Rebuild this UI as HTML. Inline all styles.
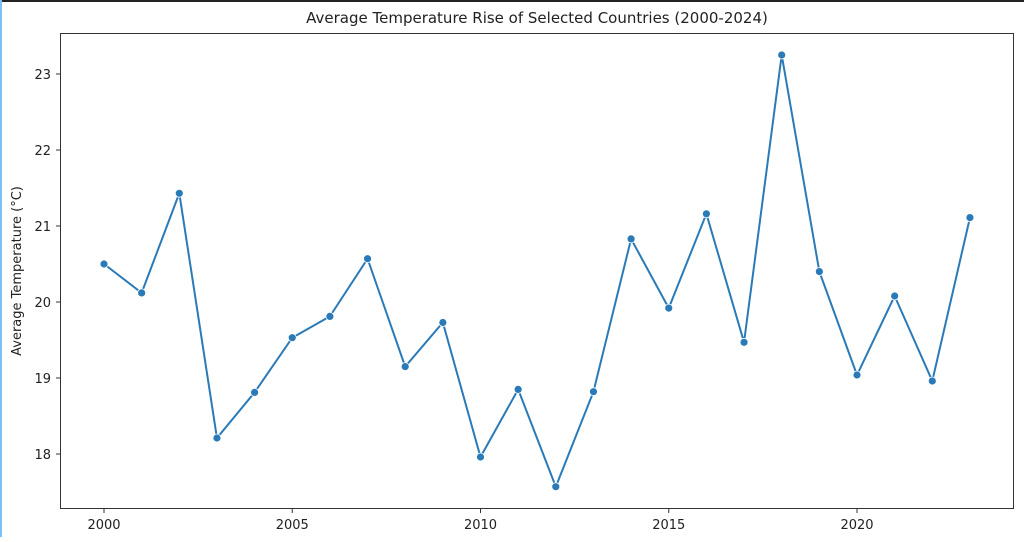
<!DOCTYPE html>
<html><head><style>
html,body{margin:0;padding:0;background:#fff;}
</style></head><body>
<svg width="1024" height="537" xmlns="http://www.w3.org/2000/svg" font-family="'DejaVu Sans','Liberation Sans',sans-serif">
<rect width="1024" height="537" fill="#fff"/>
<rect x="0" y="0" width="1024" height="2" fill="#222"/>
<rect x="0" y="0" width="2" height="537" fill="#7cc0f5"/>
<text x="537" y="23" font-size="15" text-anchor="middle" fill="#222">Average Temperature Rise of Selected Countries (2000-2024)</text>
<text transform="translate(21,271) rotate(-90)" font-size="13" text-anchor="middle" fill="#222">Average Temperature (°C)</text>
<rect x="60.5" y="33.5" width="953" height="475" fill="none" stroke="#333" stroke-width="1"/>
<g stroke="#333" stroke-width="1">
<line x1="56" x2="60" y1="454" y2="454"/><line x1="56" x2="60" y1="378" y2="378"/><line x1="56" x2="60" y1="302" y2="302"/><line x1="56" x2="60" y1="226" y2="226"/><line x1="56" x2="60" y1="150" y2="150"/><line x1="56" x2="60" y1="74" y2="74"/>
<line x1="104" x2="104" y1="509" y2="513"/><line x1="292.25" x2="292.25" y1="509" y2="513"/><line x1="480.5" x2="480.5" y1="509" y2="513"/><line x1="668.75" x2="668.75" y1="509" y2="513"/><line x1="857" x2="857" y1="509" y2="513"/>
</g>
<g font-size="13" fill="#222" text-anchor="end">
<text x="51" y="459">18</text><text x="51" y="383">19</text><text x="51" y="307">20</text><text x="51" y="231">21</text><text x="51" y="155">22</text><text x="51" y="79">23</text>
</g>
<g font-size="13" fill="#222" text-anchor="middle">
<text x="104" y="529">2000</text><text x="292.25" y="529">2005</text><text x="480.5" y="529">2010</text><text x="668.75" y="529">2015</text><text x="857" y="529">2020</text>
</g>
<polyline fill="none" stroke="#2a7ab8" stroke-width="2" points="104,264 141.65,292.9 179.3,193.3 216.95,438 254.6,392.4 292.25,337.7 329.9,316.4 367.55,258.7 405.2,366.6 442.85,322.5 480.5,457 518.15,389.4 555.8,486.7 593.45,391.7 631.1,238.9 668.75,308.1 706.4,213.8 744.05,342.3 781.7,55 819.35,271.6 857,375 894.65,296 932.3,381 969.95,217.6"/>
<g fill="#2a7ab8" stroke="#fff" stroke-width="0.8">
<circle cx="104" cy="264" r="4"/><circle cx="141.65" cy="292.9" r="4"/><circle cx="179.3" cy="193.3" r="4"/><circle cx="216.95" cy="438" r="4"/><circle cx="254.6" cy="392.4" r="4"/><circle cx="292.25" cy="337.7" r="4"/><circle cx="329.9" cy="316.4" r="4"/><circle cx="367.55" cy="258.7" r="4"/><circle cx="405.2" cy="366.6" r="4"/><circle cx="442.85" cy="322.5" r="4"/><circle cx="480.5" cy="457" r="4"/><circle cx="518.15" cy="389.4" r="4"/><circle cx="555.8" cy="486.7" r="4"/><circle cx="593.45" cy="391.7" r="4"/><circle cx="631.1" cy="238.9" r="4"/><circle cx="668.75" cy="308.1" r="4"/><circle cx="706.4" cy="213.8" r="4"/><circle cx="744.05" cy="342.3" r="4"/><circle cx="781.7" cy="55" r="4"/><circle cx="819.35" cy="271.6" r="4"/><circle cx="857" cy="375" r="4"/><circle cx="894.65" cy="296" r="4"/><circle cx="932.3" cy="381" r="4"/><circle cx="969.95" cy="217.6" r="4"/>
</g>
</svg>
</body></html>
